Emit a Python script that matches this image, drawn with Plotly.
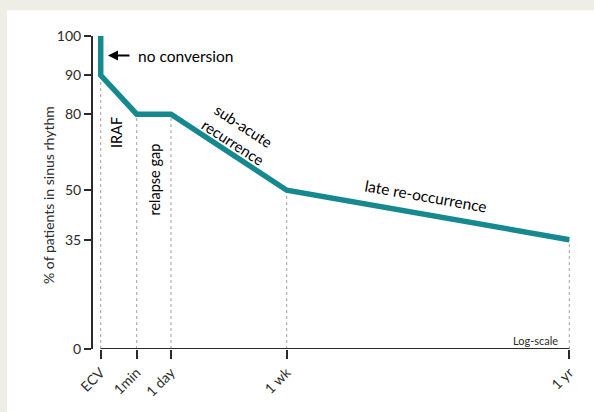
import numpy as np
import plotly.graph_objects as go

# ---- data ----
categories = ["ECV", "1min", "1 day", "1 wk", "1 yr"]
# curve points: (category, % in sinus rhythm)
curve_cats = ["ECV", "ECV", "1min", "1 day", "1 wk", "1 yr"]
curve_vals = [100, 90, 80, 80, 50, 35]
# level reached at each category (for the guide lines)
guide_vals = [90, 80, 80, 50, 35]
y_tick_vals = [0, 35, 50, 80, 90, 100]

# ---- layout (schematic axis spacing, in pixels) ----
x_axis_positions = [0, 36, 70.3, 186, 468.6]
y_axis_positions = [0, 110.3, 160.3, 237, 276.3, 316]

cat_pos = dict(zip(categories, x_axis_positions))
def ymap(v):
    return float(np.interp(v, y_tick_vals, y_axis_positions))

TEAL = "#16898e"
DARK = "#2b2b2b"
FONT = "Lato"
BEIGE = "#eeeee6"

W, H = 594, 412
L, T = 92, 28
R = W - 577
B = H - 352
x0_px = 100.7   # screen pixel of ECV
y0_px = 352     # screen pixel of 0
def px_x(px):
    return px - x0_px
def px_y(py):
    return y0_px - py

fig = go.Figure()

# guide lines
gx, gy = [], []
for c, v in zip(categories, guide_vals):
    gx += [cat_pos[c], cat_pos[c], None]
    gy += [0, ymap(v), None]
fig.add_trace(go.Scatter(x=gx, y=gy, mode="lines",
                         line=dict(color="#a0a0a0", width=1, dash="dot"),
                         hoverinfo="skip", showlegend=False))

# main curve
fig.add_trace(go.Scatter(x=[cat_pos[c] for c in curve_cats],
                         y=[ymap(v) for v in curve_vals],
                         mode="lines", line=dict(color=TEAL, width=5.5),
                         showlegend=False))

pw = W - L - R
ph = H - T - B
def paper_x(px):
    return (px - L) / pw
def paper_y(py):
    return (H - B - py) / ph

shapes = [
    # beige frame: top band and left strip
    dict(type="rect", xref="paper", yref="paper",
         x0=paper_x(-5), x1=paper_x(W + 20), y0=paper_y(10), y1=paper_y(-5),
         fillcolor=BEIGE, line=dict(width=0), layer="below"),
    dict(type="rect", xref="paper", yref="paper",
         x0=paper_x(-5), x1=paper_x(7), y0=paper_y(H + 20), y1=paper_y(-5),
         fillcolor=BEIGE, line=dict(width=0), layer="below"),
    # x axis line
    dict(type="line", xref="x", yref="y", x0=0, x1=x_axis_positions[-1], y0=0, y1=0,
         line=dict(color=DARK, width=2)),
    # y axis line
    dict(type="line", xref="paper", yref="y", x0=0, x1=0, y0=0, y1=ymap(100),
         line=dict(color=DARK, width=2)),
]

annotations = [
    dict(x=paper_x(38), y=px_y(197), xref="paper", yref="y", text="% of patients in sinus rhythm",
         textangle=-90, showarrow=False, font=dict(size=14, color=DARK, family=FONT)),
    dict(x=px_x(108), y=ymap(95), xref="x", yref="y", text="", showarrow=True,
         ax=23, ay=0, arrowhead=2, arrowsize=1, arrowwidth=2, arrowcolor="black", standoff=0),
    dict(x=px_x(136), y=ymap(95), xref="x", yref="y", text="no conversion", xanchor="left",
         showarrow=False, font=dict(size=15.5, color="black", family=FONT)),
    dict(x=px_x(116), y=px_y(134), xref="x", yref="y", text="IRAF", textangle=-90,
         showarrow=False, font=dict(size=14.5, color="black", family=FONT)),
    dict(x=px_x(155), y=px_y(181), xref="x", yref="y", text="relapse gap", textangle=-90,
         showarrow=False, font=dict(size=14.5, color="black", family=FONT)),
    dict(x=px_x(238), y=px_y(135), xref="x", yref="y", text="sub-acute<br>recurrence",
         textangle=33, showarrow=False, font=dict(size=15, color="black", family=FONT)),
    dict(x=px_x(426), y=px_y(198), xref="x", yref="y", text="late re-occurrence",
         textangle=10, showarrow=False, font=dict(size=15.5, color="black", family=FONT)),
    dict(x=px_x(535), y=px_y(343), xref="x", yref="y", text="Log-scale",
         showarrow=False, font=dict(size=11, color=DARK, family=FONT)),
]

fig.update_layout(
    width=W, height=H,
    margin=dict(l=L, r=R, t=T, b=B, pad=0),
    paper_bgcolor="white", plot_bgcolor="white",
    shapes=shapes, annotations=annotations,
    font=dict(family=FONT, color=DARK),
    xaxis=dict(range=[px_x(92), px_x(577)], tickmode="array",
               tickvals=x_axis_positions, ticktext=categories, tickangle=-45,
               ticks="outside", ticklen=9, tickwidth=2, tickcolor=DARK,
               showgrid=False, zeroline=False, showline=False,
               tickfont=dict(size=14, color=DARK, family=FONT)),
    yaxis=dict(range=[0, px_y(28)], tickmode="array",
               tickvals=[ymap(v) for v in y_tick_vals],
               ticktext=[str(v) for v in y_tick_vals],
               ticks="outside", ticklen=7, tickwidth=2, tickcolor=DARK,
               showgrid=False, zeroline=False, showline=False,
               tickfont=dict(size=14, color=DARK, family=FONT)),
)

fig.write_html("out.html",
               config={"displayModeBar": False},
               post_script="document.body.style.margin='0';"
                           "document.body.style.backgroundColor='white';"
                           "document.body.style.overflow='hidden';"
                           "document.documentElement.style.overflow='hidden';")
